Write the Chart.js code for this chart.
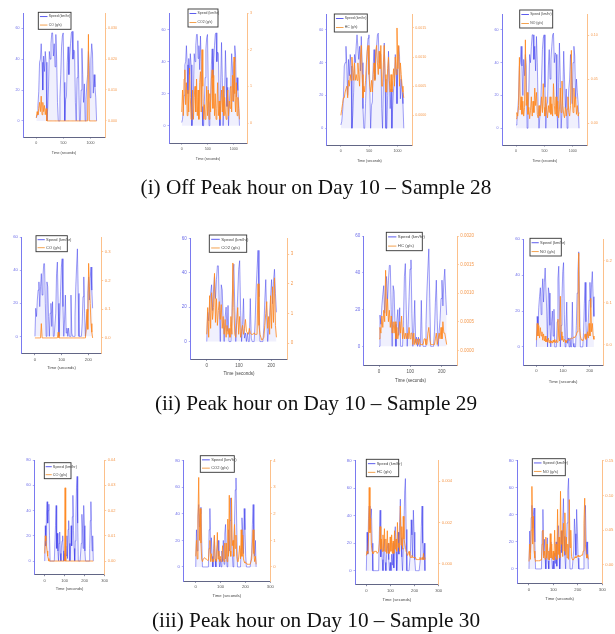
<!DOCTYPE html>
<html><head><meta charset="utf-8">
<style>
html,body{margin:0;padding:0;background:#fff;width:615px;height:634px;overflow:hidden}
canvas{position:absolute;filter:blur(0.65px)}
.cap{position:absolute;left:0;width:632px;text-align:center;font-family:"Liberation Serif",serif;font-size:21.25px;line-height:22px;color:#111;filter:blur(0.3px);white-space:nowrap}
</style>
<script src="https://cdn.jsdelivr.net/npm/chart.js@4"></script>
</head><body>
<script>
const time28=[0,15,30,45,60,75,90,105,120,135,150,165,180,195,210,225,240,255,270,285,300,315,330,345,360,375,390,405,420,435,450,465,480,495,510,525,540,555,570,585,600,615,630,645,660,675,690,705,720,735,750,765,780,795,810,825,840,855,870,885,900,915,930,945,960,975,990,1005,1020,1035,1050,1065,1080,1095,1110];
const time29=[0,3,6,9,12,15,18,21,24,27,30,33,36,39,42,45,48,51,54,57,60,63,66,69,72,75,78,81,84,87,90,93,96,99,102,105,108,111,114,117,120,123,126,129,132,135,138,141,144,147,150,153,156,159,162,165,168,171,174,177,180,183,186,189,192,195,198,201,204,207,210,213,216];
const time30=[0,3,6,9,12,15,18,21,24,27,30,33,36,39,42,45,48,51,54,57,60,63,66,69,72,75,78,81,84,87,90,93,96,99,102,105,108,111,114,117,120,123,126,129,132,135,138,141,144,147,150,153,156,159,162,165,168,171,174,177,180,183,186,189,192,195,198,201,204,207,210,213,216,219,222,225,228,231,234,237,240,243];

const speed28=[2,4,10,19,38,40,50,38,20,42,32,45,38,0,8,22,45,40,50,57,57,42,50,35,56,40,12,0,0,15,30,48,55,57,25,0,14,16,38,48,30,42,50,57,58,40,46,45,12,0,28,52,30,0,0,20,47,30,12,24,0,14,24,30,45,36,15,40,50,44,18,30,22,15,0];
const speed29=[0,17,12,22,28,33,18,30,38,25,36,44,44,20,0,33,30,12,0,14,20,6,21,0,0,0,14,38,45,20,0,12,27,42,47,18,0,10,25,2,5,0,5,0,0,25,2,0,0,0,12,30,42,53,26,0,0,0,0,8,24,36,14,0,8,15,26,36,22,35,42,28,17];
const speed30=[0,28,12,38,47,30,40,45,20,0,0,0,0,0,0,0,0,0,28,44,10,22,8,0,14,23,6,0,12,16,20,8,0,6,0,12,4,20,2,25,32,14,0,8,28,12,35,52,24,10,0,16,34,58,67,30,0,0,0,0,0,14,37,26,10,44,28,8,0,0,0,0,0,0,0,10,32,47,20,8,20,0];

const co28=[0.001,0.003,0.002,0.004,0.006,0.003,0.008,0.002,0.006,0.003,0.005,0.002,0.004,0,0,0,0,0,0,0,0,0,0,0,0,0,0,0,0,0,0,0,0,0,0,0,0,0,0,0,0,0,0,0,0,0,0,0,0,0,0,0,0,0,0,0,0,0,0,0,0,0,0,0,0.028,0,0,0,0,0,0,0,0,0,0];
const co2_28=[0.3,0.9,0.2,1.2,1.45,0.5,1.1,0.2,0.9,0.3,1.5,0.7,0.1,0.4,0.9,0.1,0.7,1.0,0.3,1.2,0.2,0.9,0.1,1.1,1.4,0.3,2.0,1.0,0.1,0.5,0.1,0.3,1.0,0.2,0.9,0.1,0.8,0.3,1.2,1.45,0.4,1.3,0.2,0.8,0.1,0.4,1.1,0.2,0.6,0.1,0.5,0.9,0.3,1.0,0.2,0.7,0.3,0.1,0.5,0.9,0.2,0.6,0.4,1.0,0.3,1.3,0.6,1.8,0.8,0.3,1.1,0.2,0.7,0.4,0.1];
const hc28=[.0000,.0001,.0002,.0003,.0003,.0004,.0004,.0005,.0003,.0006,.0005,.0007,.0006,.0010,.0008,.0006,.0009,.0006,.0007,.0006,.0009,.0007,.0005,.0010,.0012,.0007,.0003,.0005,.0004,.0006,.0009,.0011,.0012,.0007,.0005,.0004,.0006,.0004,.0007,.0009,.0006,.0011,.0012,.0009,.0007,.0011,.0008,.0012,.0005,.0005,.0009,.0012,.0007,.0004,.0004,.0008,.0010,.0006,.0004,.0007,.0004,.0006,.0008,.0005,.0010,.0007,.0015,.0008,.0012,.0005,.0009,.0007,.0005,.0004,.0003];
const no28=[.005,.012,.008,.02,.075,.015,.03,.01,.025,.008,.018,.095,.02,.035,.01,.018,.005,.014,.03,.008,.025,.012,.04,.02,.035,.01,.006,.02,.008,.015,.03,.012,.045,.018,.008,.03,.015,.006,.02,.012,.03,.01,.022,.008,.045,.02,.01,.03,.008,.025,.006,.015,.04,.012,.048,.02,.01,.006,.018,.008,.016,.03,.012,.008,.02,.083,.03,.012,.04,.018,.03,.01,.02,.008,.012];

const co29=[0,0,0,0,0,0,0,0,.05,0,0,0,0,0,0,0,0,0,0,0,0,0,0,0,0,0,0,0,0,.02,0,0,0,0,0,0,0,0,0,0,0,0,0,0,0,0,0,0,0,0,0,0,0,0,0,0,0,0,0,0,0,0,0,0,.03,.10,.03,.26,.18,.12,.05,.02,0];
const co2_29=[.3,1.2,.2,1.6,.5,1.7,.8,1.2,2.35,.7,1.5,.6,1.1,1.4,.8,1.3,.5,.9,.3,.8,.2,.6,.3,.5,.2,.9,.3,2.7,1.2,.3,.2,.7,1.2,.3,.9,.2,.4,.6,.3,.5,.8,.4,.35,.3,.5,.35,.3,.3,.3,.35,.3,.3,.3,2.0,.6,.3,.2,.1,.15,.2,.6,1.0,1.4,.5,.9,.3,1.6,.5,1.9,.7,2.2,.6,.2];
const hc29=[.0002,.0004,.0003,.0006,.0004,.0007,.0005,.0014,.0006,.0009,.0005,.0007,.0004,.0006,.0003,.0005,.0003,.0005,.0002,.0004,.0002,.0003,.0005,.0003,.0006,.0002,.0004,.0002,.0003,.0002,.0003,.0002,.0004,.0002,.0003,.0003,.0001,.0003,.0001,.0002,.0001,.0002,.0001,.0002,.0001,.0001,.0001,.0001,.0002,.0002,.0001,.0001,.0003,.0004,.0002,.0001,.0001,.0001,.0001,.0001,.0002,.0003,.0001,.0002,.0003,.0002,.0004,.0002,.0005,.0003,.0003,.0002,.0001];
const no29=[.01,.05,.02,.045,.015,.04,.02,.03,.01,.025,.008,.02,.006,.012,.005,.015,.004,.01,.003,.008,.003,.01,.005,.012,.004,.01,.005,.06,.02,.008,.115,.03,.01,.02,.006,.012,.01,.004,.008,.01,.012,.01,.012,.014,.015,.014,.016,.018,.016,.02,.022,.03,.08,.218,.04,.02,.012,.01,.008,.012,.018,.025,.012,.02,.03,.015,.05,.02,.11,.03,.05,.02,.012];

const co30=[.003,.010,.008,.006,.004,.002,.001,0,0,0,0,0,0,0,0,0,0,0,0,0,0,0,0,0,0,0,0,0,0,0,0,0,0,0,.029,0,0,0,0,0,0,0,0,0,0,0,0,0,0,0,0,0,0,0,0,0,0,0,0,0,0,0,0,0,0,0,0,0,0,0,0,0,0,0,0,0,0,0,0,0,0,0];
const co2_30=[.4,1.0,.3,1.8,3.37,1.0,2.2,.9,.3,.2,.3,.3,.35,.3,.3,.3,.25,.25,.7,1.0,.2,.5,.2,.3,.2,1.2,.3,.25,.2,1.3,.3,.6,.2,.4,.2,.3,.8,.3,.2,.9,.3,.9,.2,1.8,.4,2.7,.6,.4,2.6,.8,1.0,.4,1.6,.7,1.2,.4,.2,.2,.2,.8,.3,1.4,.4,1.2,.3,.2,.15,.15,.15,.1,.1,.1,.1,.1,.1,.3,.9,1.4,.5,.2,.4,.1];
const hc30=[.0004,.0006,.0005,.0012,.0037,.0015,.0022,.0009,.0006,.0005,.0005,.0006,.0006,.0006,.0006,.0005,.0005,.0006,.0010,.0018,.0007,.0012,.0006,.0014,.0006,.0017,.0006,.0012,.0005,.0016,.0005,.0010,.0005,.0013,.0006,.0014,.0005,.0011,.0005,.0016,.0007,.0012,.0006,.0020,.0008,.0010,.0006,.0028,.0009,.0018,.0007,.0023,.0012,.0010,.0008,.0006,.0006,.0004,.0005,.0006,.0004,.0003,.0003,.0004,.0003,.0003,.0003,.0003,.0003,.0002,.0002,.0002,.0002,.0002,.0003,.0002,.0002,.0003,.0002,.0005,.0002,.0003];
const no30=[.005,.03,.008,.05,.113,.03,.07,.02,.01,.005,.006,.006,.006,.006,.006,.007,.007,.007,.03,.05,.01,.02,.008,.04,.01,.03,.008,.02,.007,.045,.01,.03,.008,.02,.007,.05,.012,.03,.008,.08,.015,.04,.01,.106,.03,.05,.012,.06,.02,.075,.015,.04,.01,.03,.008,.094,.025,.05,.012,.008,.007,.008,.01,.012,.01,.012,.012,.014,.012,.012,.012,.014,.014,.014,.02,.06,.096,.03,.015,.01,.015,.008];

const xTicks28=[0,500,1000], xTicks29=[0,100,200], xTicks30=[0,100,200,300];
const speedTicks=[0,20,40,60], speedTicks30=[0,20,40,60,80];
const coTicks28=[0,0.01,0.02,0.03], co2Ticks=[0,1,2,3], hcTicks28=[0,0.0005,0.001,0.0015], noTicks28=[0,0.05,0.1];
const coTicks29=[0,0.1,0.2,0.3], hcTicks29=[0,0.0005,0.001,0.0015,0.002], noTicks29=[0,0.1,0.2];
const coTicks30=[0,0.01,0.02,0.03,0.04], co2Ticks30=[0,1,2,3,4], hcTicks30=[0,0.002,0.004], noTicks30=[0,0.05,0.1,0.15];

const captions=["(i) Off Peak hour on Day 10 \u2013 Sample 28","(ii) Peak hour on Day 10 \u2013 Sample 29","(iii) Peak hour on Day 10 \u2013 Sample 30"];
const captionTops=[176,392,609];

// box: [axisLeft, axisRight, axisTop, axisBottom]; leg: legend box [x0,x1,y0,y1]
const panels=[
 {box:[23,105,13,137],xr:[-245,1265],xt:xTicks28,yr:[-10.4,69.9],yt:speedTicks,rr:[-0.0052,0.0349],rt:coTicks28,rd:3,t:time28,sp:speed28,em:co28,name:"CO (g/s)",leg:[38.3,71,12.3,29.3],fs:3.4,gap:15.3},
 {box:[169,247,13,143],xr:[-245,1255],xt:xTicks28,yr:[-10.8,70.4],yt:speedTicks,rr:[-0.545,3],rt:co2Ticks,rd:0,t:time28,sp:speed28,em:co2_28,name:"CO2 (g/s)",leg:[188,218,9,27],fs:3.4,gap:15.3},
 {box:[326.7,412.3,14,145],xr:[-250,1260],xt:xTicks28,yr:[-10.2,69.7],yt:speedTicks,rr:[-0.00051,0.00174],rt:hcTicks28,rd:4,t:time28,sp:speed28,em:hc28,name:"HC (g/s)",leg:[334.3,367.3,14,32],fs:3.4,gap:15.3},
 {box:[502,587.7,14,145],xr:[-247,1263],xt:xTicks28,yr:[-10.2,69.7],yt:speedTicks,rr:[-0.025,0.1245],rt:noTicks28,rd:2,t:time28,sp:speed28,em:no28,name:"NO (g/s)",leg:[519.7,552.7,10,28],fs:3.4,gap:15.3},
 {box:[21.3,101.7,237.3,353.7],xr:[-51,250],xt:xTicks29,yr:[-10.5,60],yt:speedTicks,rr:[-0.055,0.351],rt:coTicks29,rd:1,t:time29,sp:speed29,em:co29,name:"CO (g/s)",leg:[36,67.3,235.7,251.7],fs:4,gap:13.7},
 {box:[190.3,287.7,238.3,359.3],xr:[-51,251],xt:xTicks29,yr:[-10.3,60],yt:speedTicks,rr:[-0.54,3.53],rt:co2Ticks,rd:0,t:time29,sp:speed29,em:co2_29,name:"CO2 (g/s)",leg:[209.3,246.7,235,252.3],fs:4.3,gap:14.3},
 {box:[363.7,457.3,236,365.3],xr:[-49,250],xt:xTicks29,yr:[-10.3,60],yt:speedTicks,rr:[-0.000263,0.0020],rt:hcTicks29,rd:4,t:time29,sp:speed29,em:hc29,name:"HC (g/s)",leg:[386.3,422.3,232.3,250.7],fs:4.3,gap:15.7},
 {box:[523.3,603,239.3,365.3],xr:[-49,250],xt:xTicks29,yr:[-10.25,60],yt:speedTicks,rr:[-0.05,0.251],rt:noTicks29,rd:1,t:time29,sp:speed29,em:no29,name:"NO (g/s)",leg:[530,561.3,238.3,256],fs:4,gap:16.3},
 {box:[34.3,104.7,460,574.7],xr:[-52,300],xt:xTicks30,yr:[-10.8,80],yt:speedTicks30,rr:[-0.0054,0.04],rt:coTicks30,rd:2,t:time30,sp:speed30,em:co30,name:"CO (g/s)",leg:[44.3,71,462.7,478.7],fs:3.8,gap:14.3},
 {box:[183.3,270.3,460.7,581.3],xr:[-50,300],xt:xTicks30,yr:[-10.8,80],yt:speedTicks30,rr:[-0.54,4],rt:co2Ticks30,rd:0,t:time30,sp:speed30,em:co2_30,name:"CO2 (g/s)",leg:[200.3,234.3,455.7,472.3],fs:4,gap:14.7},
 {box:[355,438.7,460.7,584.7],xr:[-47,300],xt:xTicks30,yr:[-10.2,80],yt:speedTicks30,rr:[-0.00102,0.005],rt:hcTicks30,rd:3,t:time30,sp:speed30,em:hc30,name:"HC (g/s)",leg:[366.3,398.7,459.3,476.7],fs:4,gap:15.3},
 {box:[517,602.3,460.7,583.7],xr:[-49,300],xt:xTicks30,yr:[-10.9,80],yt:speedTicks30,rr:[-0.027,0.15],rt:noTicks30,rd:2,t:time30,sp:speed30,em:no30,name:"NO (g/s)",leg:[532.3,565.3,458.7,475.7],fs:4,gap:15.3}
];

const BLUE="rgba(45,45,235,0.7)", BLUEFILL="rgba(110,110,240,0.1)", ORANGE="rgba(255,135,30,0.82)";
const legendBox={
 id:'legendBox',
 afterDraw(chart,args,o){
  const c=chart.ctx,[x0,x1,y0,y1]=o.rect.map((v,i)=>v-(i<2?o.ox:o.oy));
  c.save();
  c.fillStyle='#fff';c.fillRect(x0,y0,x1-x0,y1-y0);
  c.strokeStyle='#333';c.lineWidth=0.9;c.strokeRect(x0,y0,x1-x0,y1-y0);
  const h=(y1-y0)/2,w=x1-x0;
  chart.data.datasets.forEach((d,i)=>{
   const y=y0+h*(i+0.5);
   c.strokeStyle=i?'#f08a24':'#3434e8';c.lineWidth=0.8;
   c.beginPath();c.moveTo(x0+w*0.05,y);c.lineTo(x0+w*0.28,y);c.stroke();
   c.fillStyle='#444';c.font=o.fs+'px "Liberation Sans",Arial,sans-serif';
   c.textBaseline='middle';c.textAlign='left';
   c.fillText(d.label,x0+w*0.32,y);
  });
  c.restore();
 }
};
const setTicks=vals=>s=>{s.ticks=vals.map(v=>({value:v}));};

panels.forEach(p=>{
 const [l,r,t,b]=p.box;
 const left0=Math.floor(l-14), top0=Math.floor(t-5);
 const W=Math.ceil(r+21)-left0, H=Math.ceil(b+p.gap+4)-top0;
 const mL=l-left0, mR=left0+W-r, mT=t-top0, axH=p.gap+2.7, mB=top0+H-b-axH;
 const cv=document.createElement('canvas');
 cv.style.left=left0+'px';cv.style.top=top0+'px';
 cv.style.width=W+'px';cv.style.height=H+'px';
 cv.width=W;cv.height=H;
 document.body.appendChild(cv);
 const pts=(vals)=>vals.map((v,i)=>({x:p.t[i],y:v}));
 new Chart(cv,{
  type:'line',
  plugins:[legendBox],
  data:{datasets:[
   {label:'Speed (km/hr)',data:pts(p.sp),yAxisID:'y',borderColor:BLUE,backgroundColor:BLUEFILL,fill:{value:0},borderWidth:0.65,pointRadius:0,tension:0,order:2},
   {label:p.name,data:pts(p.em),yAxisID:'y2',borderColor:ORANGE,borderWidth:1,pointRadius:0,tension:0,order:1}
  ]},
  options:{
   responsive:false,animation:false,devicePixelRatio:1,
   layout:{padding:{left:0,right:0,top:mT,bottom:mB},autoPadding:false},
   plugins:{legend:{display:false},tooltip:{enabled:false},
    legendBox:{rect:p.leg,ox:left0,oy:top0,fs:p.fs}},
   scales:{
    x:{type:'linear',min:p.xr[0],max:p.xr[1],afterBuildTicks:setTicks(p.xt),
     border:{color:'#3a3f66',width:0.8},
     grid:{drawOnChartArea:false,color:'#3a3f66',tickLength:1.5,lineWidth:0.6},
     ticks:{autoSkip:false,maxRotation:0,padding:2,color:'#555',font:{size:p.fs+0.2},callback:v=>String(v)},
     title:{display:true,text:'Time (seconds)',color:'#444',font:{size:p.fs+0.2},padding:0},
     afterFit(s){s.height=axH}},
    y:{type:'linear',position:'left',min:p.yr[0],max:p.yr[1],afterBuildTicks:setTicks(p.yt),
     border:{color:'#7a7af0',width:1},
     grid:{drawOnChartArea:false,color:'#7a7af0',tickLength:1.5,lineWidth:0.6},
     ticks:{autoSkip:false,padding:2,color:'#6a6ae8',font:{size:p.fs+0.2},callback:v=>String(v)},
     afterFit(s){s.width=mL}},
    y2:{type:'linear',position:'right',min:p.rr[0],max:p.rr[1],afterBuildTicks:setTicks(p.rt),
     border:{color:'#fcc08a',width:1},
     grid:{drawOnChartArea:false,color:'#f9a45c',tickLength:1.5,lineWidth:0.6},
     ticks:{autoSkip:false,padding:1.5,color:'#f59a4e',font:{size:p.fs+0.2},
      callback:v=>Number(v).toFixed(p.rd)},
     afterFit(s){s.width=mR}}
   }
  }
 });
});
captions.forEach((c,i)=>{
 const d=document.createElement('div');d.className='cap';d.textContent=c;d.style.top=captionTops[i]+'px';
 document.body.appendChild(d);
});
</script>
</body></html>
